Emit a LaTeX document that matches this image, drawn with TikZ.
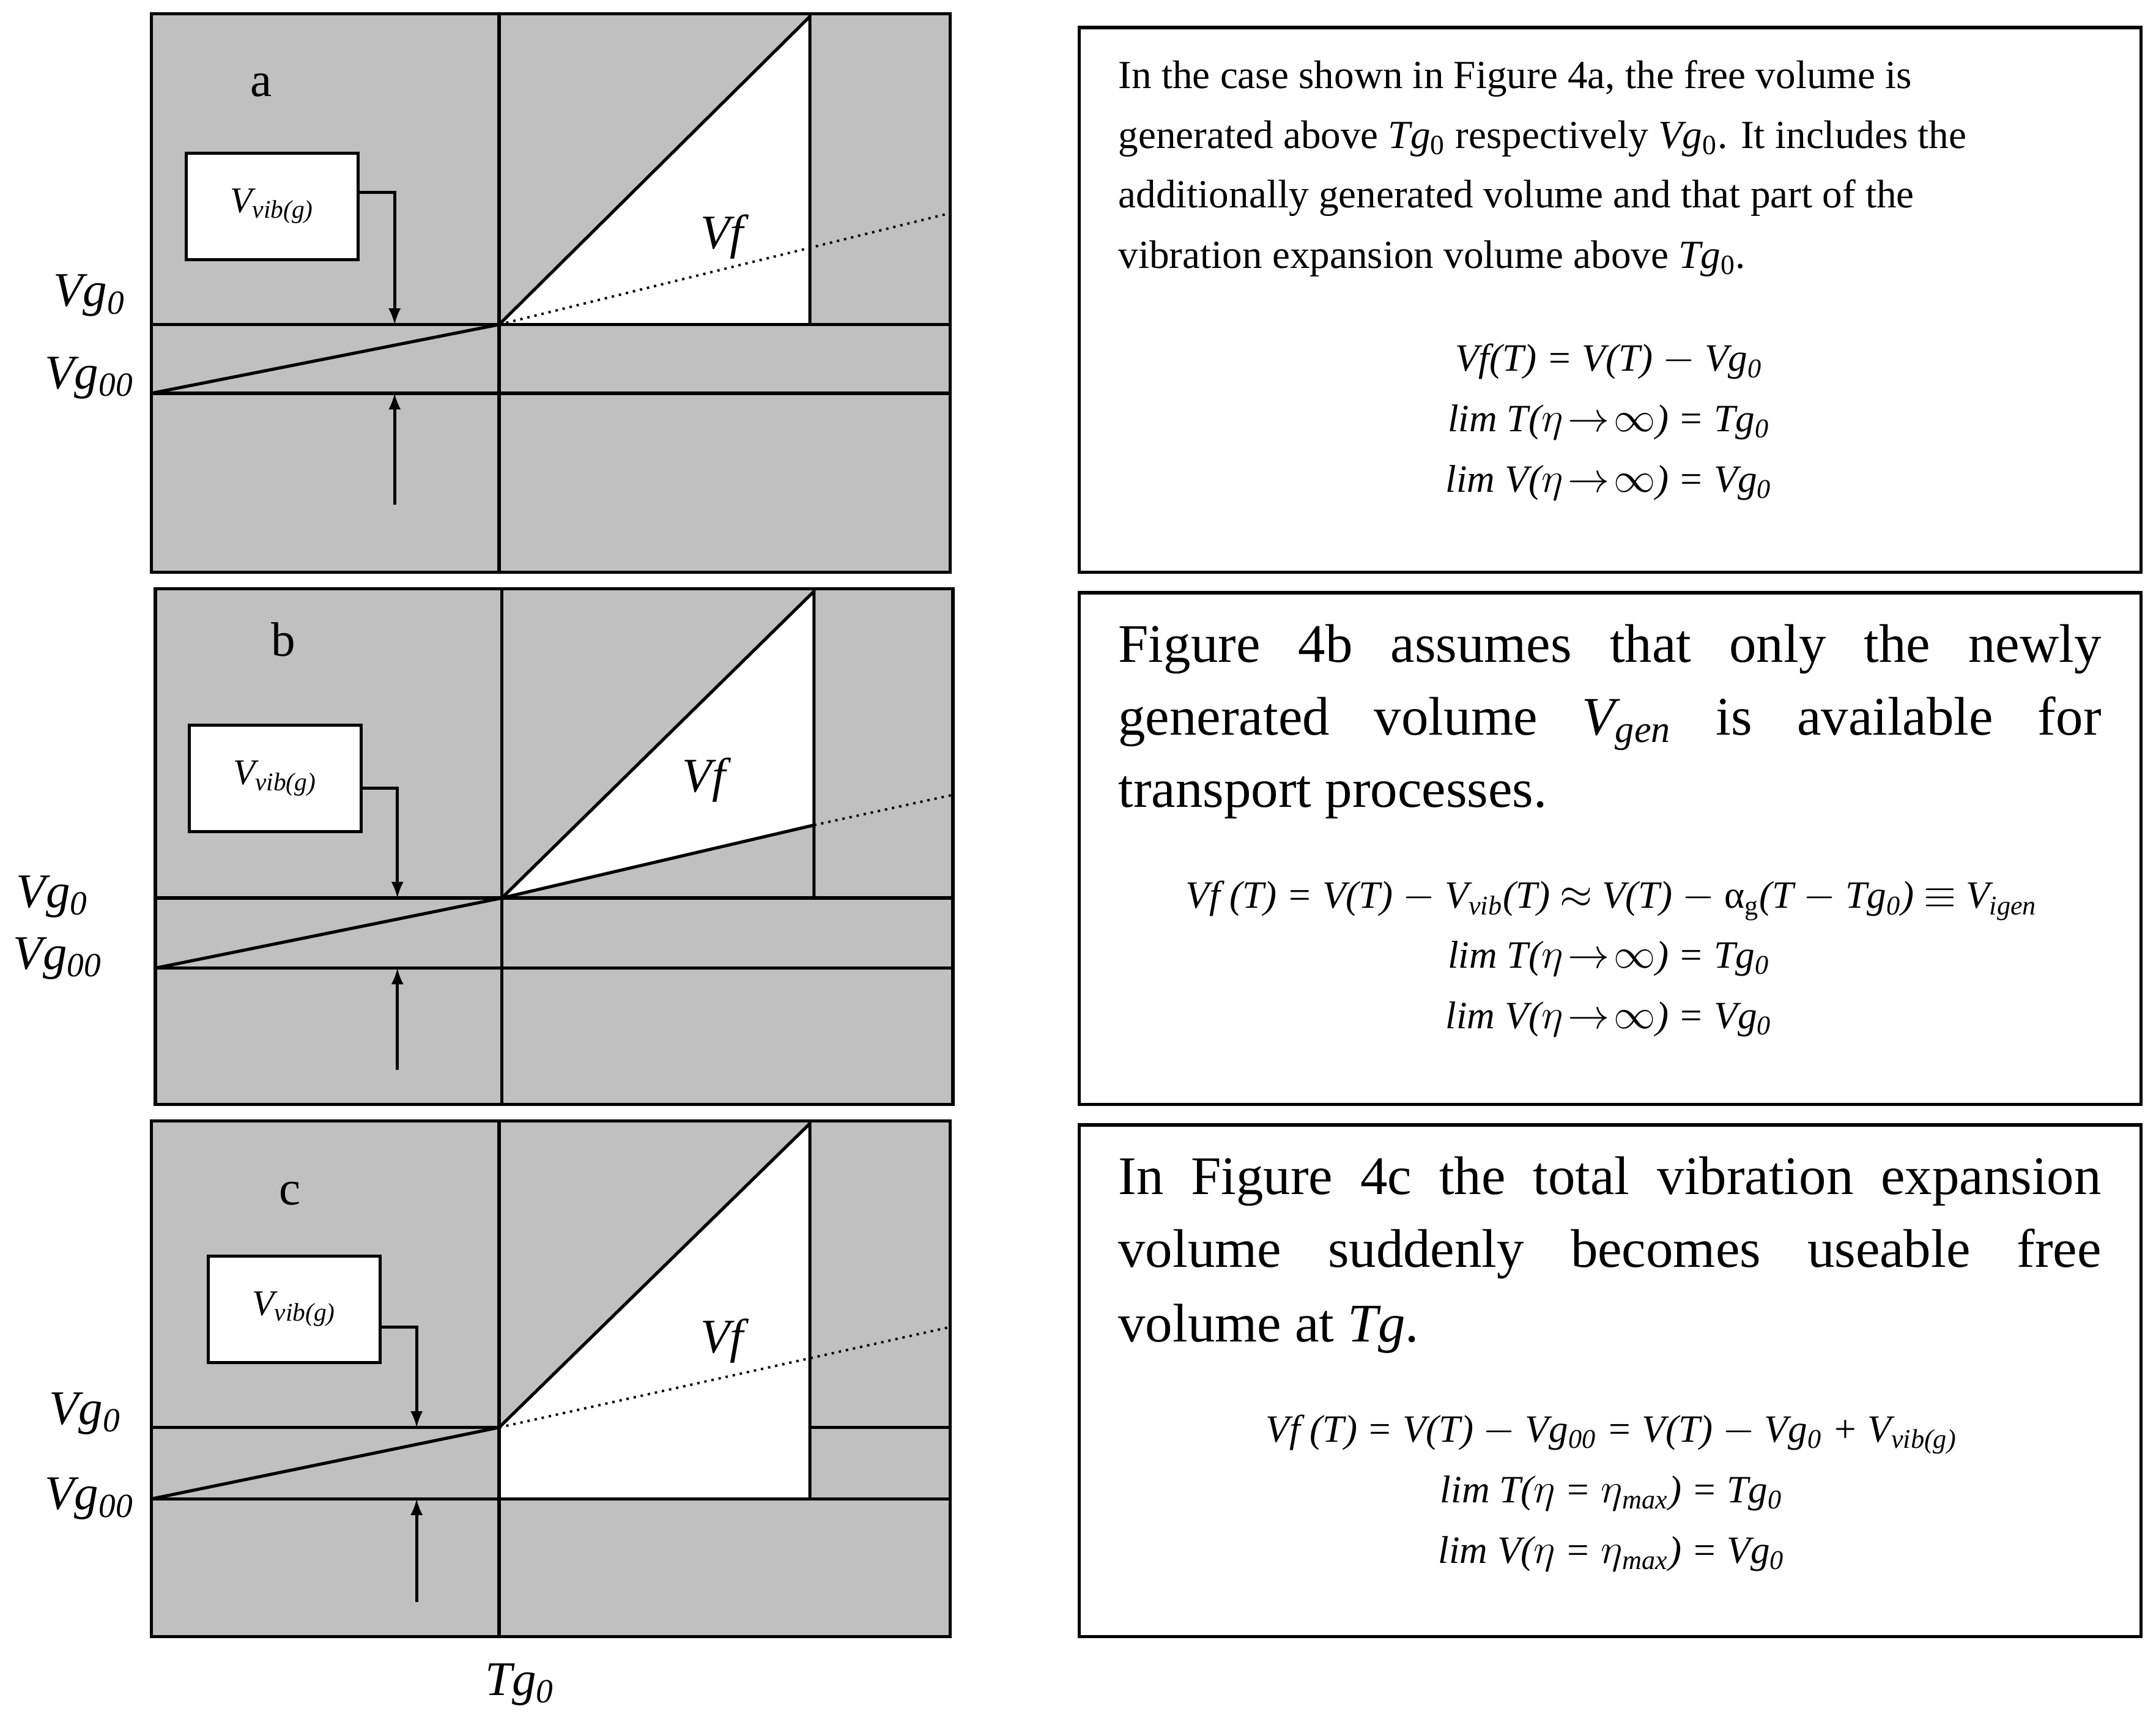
\documentclass[tikz,border=0pt]{standalone}
\usepackage{fontspec}
\setmainfont{Liberation Serif}
\definecolor{pg}{RGB}{192,192,192}
\begin{document}
\begin{tikzpicture}[x=0.02cm,y=-0.02cm,
 ln/.style={line width=1.3pt},
 ar/.style={line width=1.3pt,-latex},
 lab/.style={font=\fontsize{20}{24}\selectfont\itshape},
 vb/.style={draw,line width=1.3pt,fill=white,font=\fontsize{15}{18}\selectfont\itshape,minimum width=2.5cm,minimum height=1.55cm,inner sep=0pt},
 tx/.style={anchor=west,inner sep=0pt},
 eq/.style={font=\fontsize{16}{19}\selectfont\itshape,inner sep=0pt}]
\useasboundingbox (0,0) rectangle (1568,1254);
% ---------- panel a
\fill[pg] (110,10) rectangle (691,416);
\fill[white] (363,236) -- (589,12) -- (589,236) -- cycle;
\draw[ln] (110,10) rectangle (691,416);
\draw[ln] (363,10) -- (363,416);
\draw[ln] (110,236) -- (691,236);
\draw[ln] (110,286) -- (691,286);
\draw[ln] (363,236) -- (589,12) -- (589,236);
\draw[ln] (110,286) -- (363,236);
\draw[line width=1pt,dotted] (363,236) -- (691,155);
\node[vb] (va) at (198,150) {V\textsubscript{vib(g)}};
\draw[ar] (va.east|-0,140) -- (287,140) -- (287,236);
\draw[ar] (287,367) -- (287,286);
\node[font=\fontsize{20}{24}\selectfont] at (190,62) {a};
\node[lab] at (525,172) {Vf};
\node[lab] at (65,215) {Vg\textsubscript{0}};
\node[lab] at (65,275) {Vg\textsubscript{00}};
% ---------- panel b
\fill[pg] (113,428) rectangle (693,803);
\fill[white] (365,653) -- (592,430) -- (592,600) -- cycle;
\draw[ln] (113,428) rectangle (693,803);
\draw[ln] (365,428) -- (365,803);
\draw[ln] (113,653) -- (693,653);
\draw[ln] (113,704) -- (693,704);
\draw[ln] (365,653) -- (592,430) -- (592,653);
\draw[ln] (113,704) -- (365,653) -- (592,600);
\draw[line width=1pt,dotted] (592,600) -- (693,578);
\node[vb] (vb2) at (200,566) {V\textsubscript{vib(g)}};
\draw[ar] (vb2.east|-0,573) -- (289,573) -- (289,653);
\draw[ar] (289,778) -- (289,704);
\node[font=\fontsize{20}{24}\selectfont] at (206,465) {b};
\node[lab] at (512,567) {Vf};
\node[lab] at (38,652) {Vg\textsubscript{0}};
\node[lab] at (42,697) {Vg\textsubscript{00}};
% ---------- panel c
\fill[pg] (110,815) rectangle (691,1190);
\fill[white] (363,1038) -- (589,817) -- (589,1090) -- (363,1090) -- cycle;
\draw[ln] (110,815) rectangle (691,1190);
\draw[ln] (363,815) -- (363,1190);
\draw[ln] (110,1038) -- (363,1038);
\draw[ln] (589,1038) -- (691,1038);
\draw[ln] (110,1090) -- (691,1090);
\draw[ln] (363,1038) -- (589,817) -- (589,1090);
\draw[ln] (110,1090) -- (363,1038);
\draw[line width=1pt,dotted] (363,1038) -- (691,965);
\node[vb] (vc) at (214,952) {V\textsubscript{vib(g)}};
\draw[ar] (vc.east|-0,965) -- (303,965) -- (303,1038);
\draw[ar] (303,1165) -- (303,1090);
\node[font=\fontsize{20}{24}\selectfont] at (211,868) {c};
\node[lab] at (525,975) {Vf};
\node[lab] at (62,1028) {Vg\textsubscript{0}};
\node[lab] at (65,1090) {Vg\textsubscript{00}};
\node[lab] at (378,1225) {Tg\textsubscript{0}};
% ---------- text boxes
\draw[ln] (785,20) rectangle (1557,416);
\draw[ln] (785,431) rectangle (1557,803);
\draw[ln] (785,818) rectangle (1557,1190);
\begin{scope}[font=\fontsize{16.5}{20}\selectfont]
\node[tx] at (813,57) {In the case shown in Figure 4a, the free volume is};
\node[tx] at (813,101) {generated above \textit{Tg}\textsubscript{0} respectively \textit{Vg}\textsubscript{0}. It includes the};
\node[tx] at (813,144) {additionally generated volume and that part of the};
\node[tx] at (813,188) {vibration expansion volume above \textit{Tg}\textsubscript{0}.};
\end{scope}
\node[eq] at (1170,263) {Vf(T) = V(T) $-$ Vg\textsubscript{0}};
\node[eq] at (1170,307) {lim T($\eta\!\rightarrow\!\infty$) = Tg\textsubscript{0}};
\node[eq] at (1170,351) {lim V($\eta\!\rightarrow\!\infty$) = Vg\textsubscript{0}};
\begin{scope}[font=\fontsize{22.5}{27}\selectfont]
\node[tx] at (813,472) {\makebox[14.3cm][s]{Figure 4b assumes that only the newly}};
\node[tx] at (813,526) {\makebox[14.3cm][s]{generated volume \textit{V\textsubscript{gen}} is available for}};
\node[tx] at (813,580) {transport processes.};
\node[tx] at (813,859) {\makebox[14.3cm][s]{In Figure 4c the total vibration expansion}};
\node[tx] at (813,912) {\makebox[14.3cm][s]{volume suddenly becomes useable free}};
\node[tx] at (813,966) {volume at \textit{Tg}.};
\end{scope}
\node[eq] at (1172,655) {Vf (T) = V(T) $-$ V\textsubscript{vib}(T) $\approx$ V(T) $-$ \textup{α}\textsubscript{\textup{g}}(T $-$ Tg\textsubscript{0}) $\equiv$ V\textsubscript{igen}};
\node[eq] at (1170,697) {lim T($\eta\!\rightarrow\!\infty$) = Tg\textsubscript{0}};
\node[eq] at (1170,741) {lim V($\eta\!\rightarrow\!\infty$) = Vg\textsubscript{0}};
\node[eq] at (1172,1043) {Vf (T) = V(T) $-$ Vg\textsubscript{00} = V(T) $-$ Vg\textsubscript{0} + V\textsubscript{vib(g)}};
\node[eq] at (1172,1086) {lim T($\eta$ = $\eta$\textsubscript{max}) = Tg\textsubscript{0}};
\node[eq] at (1172,1130) {lim V($\eta$ = $\eta$\textsubscript{max}) = Vg\textsubscript{0}};
\end{tikzpicture}
\end{document}
